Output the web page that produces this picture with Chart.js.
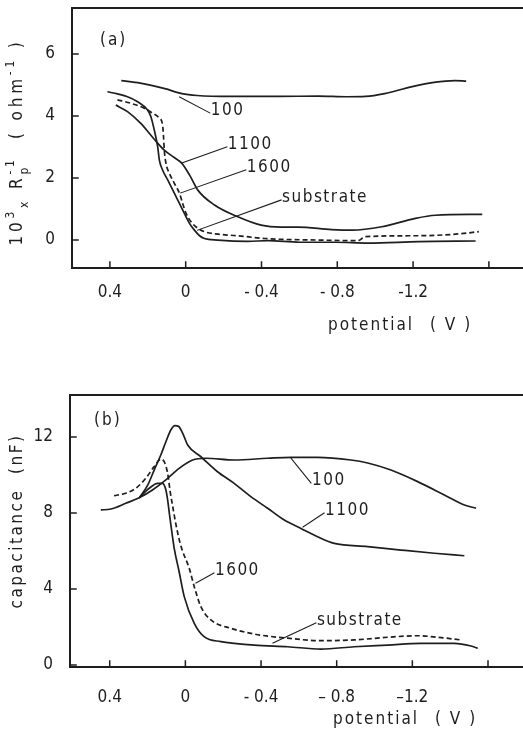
<!DOCTYPE html>
<html><head><meta charset="utf-8">
<script src="https://cdn.jsdelivr.net/npm/chart.js@4/dist/chart.umd.min.js"></script>
<style>
html,body{margin:0;padding:0;background:#fff;width:523px;height:732px;overflow:hidden}
#ca{position:absolute;left:0;top:0}
#cb{position:absolute;left:0;top:380px}
</style></head><body>
<canvas id="ca" width="523" height="345"></canvas>
<canvas id="cb" width="523" height="352"></canvas>
<script>
// ---------- data: panel (a) 10^3 x Rp^-1 (ohm^-1) vs potential (V) ----------
const xTicks = [0.4, 0, -0.4, -0.8, -1.2, -1.6];
const xTickLabelsA = ['0.4', '0', '- 0.4', '- 0.8', '-1.2', ''];
const xTickLabelsB = ['0.4', '0', '- 0.4', '\u2013 0.8', '\u20131.2', ''];
const yTicksA = [0, 2, 4, 6];
const yTicksB = [0, 4, 8, 12];
const seriesNames = ['100', '1100', '1600', 'substrate'];

const potA100 = [0.34, 0.24, 0.11, 0.02, -0.06, -0.24, -0.49, -0.70, -0.85, -0.95, -1.05, -1.19, -1.31, -1.42, -1.48];
const rpA100  = [5.14, 5.06, 4.88, 4.72, 4.66, 4.63, 4.63, 4.64, 4.62, 4.63, 4.72, 4.94, 5.08, 5.14, 5.12];

const potA1100 = [0.369, 0.307, 0.237, 0.166, 0.113, 0.060, 0.021, -0.020, -0.064, -0.152, -0.275, -0.398, -0.504, -0.593, -0.770, -0.876, -1.035, -1.212, -1.318, -1.565];
const rpA1100  = [4.35, 4.14, 3.76, 3.25, 2.90, 2.66, 2.48, 2.10, 1.61, 1.13, 0.75, 0.48, 0.42, 0.42, 0.34, 0.32, 0.43, 0.70, 0.80, 0.83];

const potA1600 = [0.360, 0.290, 0.219, 0.175, 0.139, 0.122, 0.117, 0.113, 0.104, 0.086, 0.060, 0.033, 0.016, -0.002, -0.028, -0.064, -0.099, -0.170, -0.275, -0.417, -0.699, -0.911, -0.947, -1.229, -1.424, -1.547];
const rpA1600  = [4.52, 4.41, 4.25, 4.09, 3.93, 3.71, 3.33, 2.90, 2.47, 2.15, 1.83, 1.51, 1.18, 0.86, 0.59, 0.38, 0.27, 0.19, 0.14, 0.05, 0.00, -0.02, 0.11, 0.14, 0.19, 0.27];

const potASub = [0.413, 0.360, 0.307, 0.254, 0.201, 0.184, 0.166, 0.148, 0.139, 0.122, 0.095, 0.060, 0.033, 0.007, -0.020, -0.046, -0.073, -0.099, -0.170, -0.328, -0.434, -0.600, -0.788, -0.964, -1.229, -1.530];
const rpASub  = [4.78, 4.71, 4.62, 4.46, 4.19, 3.98, 3.55, 3.01, 2.58, 2.26, 1.94, 1.51, 1.18, 0.86, 0.54, 0.32, 0.14, 0.05, 0.00, -0.04, -0.02, -0.07, -0.07, -0.10, -0.05, -0.03];

// ---------- data: panel (b) capacitance (nF) vs potential (V) ----------
const potB100 = [0.447, 0.394, 0.315, 0.244, 0.174, 0.103, 0.033, -0.038, -0.108, -0.258, -0.435, -0.558, -0.699, -0.875, -0.964, -1.087, -1.228, -1.369, -1.475, -1.537];
const capB100 = [8.16, 8.21, 8.51, 8.80, 9.21, 9.74, 10.35, 10.79, 10.88, 10.79, 10.88, 10.93, 10.93, 10.79, 10.63, 10.26, 9.65, 8.95, 8.42, 8.25];

const potB1100 = [0.244, 0.200, 0.165, 0.130, 0.103, 0.077, 0.055, 0.035, 0.010, -0.012, -0.082, -0.170, -0.258, -0.346, -0.435, -0.523, -0.611, -0.699, -0.787, -0.964, -1.140, -1.316, -1.475];
const capB1100 = [8.80, 9.45, 10.26, 11.05, 11.75, 12.37, 12.60, 12.55, 12.10, 11.58, 10.96, 10.17, 9.56, 8.86, 8.25, 7.63, 7.19, 6.75, 6.40, 6.23, 6.05, 5.88, 5.75];

const potB1600 = [0.377, 0.315, 0.262, 0.209, 0.165, 0.130, 0.112, 0.094, 0.080, 0.068, 0.050, 0.030, 0.015, -0.020, -0.047, -0.082, -0.135, -0.241, -0.364, -0.541, -0.717, -0.893, -1.070, -1.228, -1.334, -1.457];
const capB1600 = [8.91, 9.04, 9.30, 9.83, 10.44, 10.83, 10.70, 10.10, 9.10, 8.40, 7.40, 6.50, 6.00, 5.10, 4.12, 3.07, 2.37, 1.93, 1.63, 1.41, 1.28, 1.32, 1.46, 1.54, 1.46, 1.32];

const potBSub = [0.244, 0.191, 0.147, 0.121, 0.103, 0.094, 0.085, 0.077, 0.059, 0.033, 0.006, -0.047, -0.099, -0.188, -0.364, -0.541, -0.717, -0.893, -1.070, -1.246, -1.422, -1.510, -1.546];
const capBSub = [8.80, 9.30, 9.56, 9.56, 9.21, 8.70, 8.00, 7.40, 6.14, 4.91, 3.60, 2.19, 1.49, 1.23, 1.05, 0.96, 0.84, 0.96, 1.05, 1.14, 1.14, 1.00, 0.88];

// curve-label leaders, in data units (potential, value)
const labelsA = [
  {x1: 0.032, y1: 4.61, x2: -0.127, y2: 4.10, text: '100'},
  {x1: 0.021, y1: 2.48, x2: -0.217, y2: 3.00, text: '1100'},
  {x1: 0.026, y1: 1.52, x2: -0.317, y2: 2.26, text: '1600'},
  {x1: -0.063, y1: 0.32, x2: -0.503, y2: 1.29, text: 'substrate'}
];
const labelsB = [
  {x1: -0.558, y1: 10.89, x2: -0.664, y2: 9.58, text: '100'},
  {x1: -0.622, y1: 7.26, x2: -0.733, y2: 8.00, text: '1100'},
  {x1: -0.056, y1: 4.32, x2: -0.151, y2: 4.84, text: '1600'},
  {x1: -0.463, y1: 1.16, x2: -0.690, y2: 2.21, text: 'substrate'}
];

// ---------- styling / drawing ----------
const INK = '#1e1e1e';
const FONT = "'Liberation Sans Narrow','DejaVu Sans Condensed','Liberation Sans',sans-serif";
const FS = 17;

function pts(xs, ys) { return xs.map((v, i) => ({x: v, y: ys[i]})); }

function drawRich(ctx, segs, cx, cy, size, spacing) {
  const small = Math.round(size * 0.68);
  ctx.save();
  ctx.letterSpacing = spacing + 'px';
  const w = s => {
    if (s.k === 'stack') {
      ctx.font = small + 'px ' + FONT;
      return Math.max(ctx.measureText(s.sub).width, ctx.measureText(s.sup).width);
    }
    ctx.font = (s.k ? small : size) + 'px ' + FONT;
    return ctx.measureText(s.t).width;
  };
  const total = segs.reduce((a, s) => a + w(s), 0);
  ctx.translate(cx, cy);
  ctx.rotate(-Math.PI / 2);
  ctx.fillStyle = INK;
  ctx.textBaseline = 'middle';
  ctx.textAlign = 'left';
  let x = -total / 2;
  segs.forEach(s => {
    const ww = w(s);
    if (s.k === 'stack') {
      ctx.font = small + 'px ' + FONT;
      ctx.fillText(s.sup, x, -size * 0.42);
      ctx.fillText(s.sub, x, size * 0.38);
    } else {
      ctx.font = (s.k ? small : size) + 'px ' + FONT;
      const dy = s.k === 'sup' ? -size * 0.42 : s.k === 'sub' ? size * 0.38 : 0;
      ctx.fillText(s.t, x, dy);
    }
    x += ww;
  });
  ctx.restore();
}

const decor = {
  id: 'decor',
  afterDraw(chart, args, o) {
    const {ctx, chartArea: ca, scales: {x, y}} = chart;
    ctx.save();
    ctx.strokeStyle = INK;
    ctx.lineCap = 'square';
    // frame: left, top, bottom (right side open)
    ctx.lineWidth = 2;
    ctx.beginPath();
    ctx.moveTo(ca.right, ca.top); ctx.lineTo(ca.left, ca.top);
    ctx.lineTo(ca.left, ca.bottom); ctx.lineTo(ca.right, ca.bottom);
    ctx.stroke();
    // inside tick marks
    ctx.lineWidth = 1.5;
    ctx.beginPath();
    x.ticks.forEach(t => { const px = x.getPixelForValue(t.value); ctx.moveTo(px, ca.bottom); ctx.lineTo(px, ca.bottom - 6); });
    y.ticks.forEach(t => { const py = y.getPixelForValue(t.value); ctx.moveTo(ca.left, py); ctx.lineTo(ca.left + 6, py); });
    ctx.stroke();
    // curve labels with leaders
    ctx.lineWidth = 1.1;
    ctx.fillStyle = INK;
    ctx.font = FS + 'px ' + FONT;
    ctx.letterSpacing = '1.5px';
    ctx.textAlign = 'left';
    ctx.textBaseline = 'middle';
    o.labels.forEach(l => {
      const x1 = x.getPixelForValue(l.x1), y1 = y.getPixelForValue(l.y1);
      const x2 = x.getPixelForValue(l.x2), y2 = y.getPixelForValue(l.y2);
      ctx.beginPath(); ctx.moveTo(x1, y1); ctx.lineTo(x2, y2); ctx.stroke();
      ctx.fillText(l.text, x2 + 1, y2 - 2);
    });
    // panel tag
    ctx.letterSpacing = '2px';
    ctx.fillText(o.tag, ca.left + o.tagDx, ca.top + o.tagDy);
    // x axis title
    ctx.fillText('potential', o.titleX, ca.bottom + o.titleDy);
    ctx.fillText('( V )', o.titleX + 102, ca.bottom + o.titleDy);
    ctx.restore();
    // y axis title
    drawRich(ctx, o.ytitle, 18, o.ytitleY, FS, o.ytitleSp);
  }
};
Chart.register(decor);

function makeChart(id, cfg) {
  return new Chart(document.getElementById(id), {
    type: 'line',
    data: {
      datasets: cfg.series.map((s, i) => ({
        label: seriesNames[i],
        data: pts(s[0], s[1]),
        borderColor: INK,
        borderWidth: 1.7,
        borderDash: seriesNames[i] === '1600' ? [5, 3] : [],
        pointRadius: 0,
        fill: false,
        cubicInterpolationMode: 'monotone'
      }))
    },
    options: {
      responsive: false,
      animation: false,
      events: [],
      layout: {autoPadding: false, padding: {top: cfg.padTop, left: 0, right: 0, bottom: 0}},
      plugins: {
        legend: {display: false},
        tooltip: {enabled: false},
        decor: cfg.decor
      },
      scales: {
        x: {
          type: 'linear', reverse: true, min: cfg.xMin, max: cfg.xMax,
          grid: {display: false, drawTicks: false}, border: {display: false},
          afterBuildTicks: s => { s.ticks = xTicks.map(v => ({value: v})); },
          afterFit: s => { s.height = cfg.xH; s.paddingLeft = 0; s.paddingRight = 0; },
          ticks: {padding: cfg.xPad, color: INK, font: {family: FONT, size: FS}, maxRotation: 0, autoSkip: false,
                  callback: (v, i) => cfg.xLabels[i]}
        },
        y: {
          type: 'linear', min: cfg.yMin, max: cfg.yMax,
          grid: {display: false, drawTicks: false}, border: {display: false},
          afterBuildTicks: s => { s.ticks = cfg.yTicks.map(v => ({value: v})); },
          afterFit: s => { s.width = cfg.yW; s.paddingTop = 0; s.paddingBottom = 0; },
          ticks: {padding: 17, color: INK, font: {family: FONT, size: FS}, autoSkip: false,
                  callback: v => String(v)}
        }
      }
    }
  });
}

makeChart('ca', {
  series: [[potA100, rpA100], [potA1100, rpA1100], [potA1600, rpA1600], [potASub, rpASub]],
  xMin: -1.78, xMax: 0.6, yMin: -0.9, yMax: 7.48,
  yTicks: yTicksA, xLabels: xTickLabelsA,
  padTop: 8, xH: 77, yW: 72, xPad: 14,
  decor: {
    labels: labelsA, tag: '(a)', tagDx: 28, tagDy: 33,
    titleX: 328, titleDy: 58, ytitleY: 142, ytitleSp: 3.8,
    ytitle: [{t: '10'}, {t: '3', k: 'sup'}, {t: 'x', k: 'sub'}, {t: ' R'}, {k: 'stack', sub: 'p', sup: '-1'},
             {t: '  ( ohm'}, {t: '-1', k: 'sup'}, {t: ' )'}]
  }
});

makeChart('cb', {
  series: [[potB100, capB100], [potB1100, capB1100], [potB1600, capB1600], [potBSub, capBSub]],
  xMin: -1.785, xMax: 0.61, yMin: -0.105, yMax: 14.21,
  yTicks: yTicksB, xLabels: xTickLabelsB,
  padTop: 15, xH: 65, yW: 70, xPad: 20,
  decor: {
    labels: labelsB, tag: '(b)', tagDx: 24, tagDy: 26,
    titleX: 333, titleDy: 53, ytitleY: 141, ytitleSp: 2.5,
    ytitle: [{t: 'capacitance  (nF)'}]
  }
});
</script>
</body></html>
